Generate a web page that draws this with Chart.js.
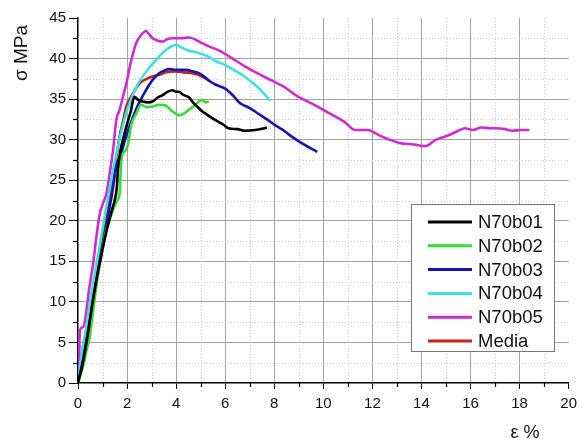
<!DOCTYPE html>
<html>
<head>
<meta charset="utf-8">
<script src="https://cdn.jsdelivr.net/npm/chart.js@4/dist/chart.umd.min.js"></script>
<style>
  html, body { margin: 0; padding: 0; background: #fff; }
  #wrap { width: 583px; height: 443px; position: relative; }
</style>
</head>
<body>
<div id="wrap"><canvas id="c" width="583" height="443"></canvas></div>
<script>
// Stress–strain curves, [strain %, stress MPa]
const n70b01 = [[0,0],[0.2,2.5],[0.4,6],[0.6,10],[0.8,13.5],[1.0,16.5],[1.2,19.2],[1.4,21.5],[1.5,22.6],[1.58,24],[1.63,26.3],[1.72,28.5],[1.85,30.2],[1.97,31.6],[2.15,33.5],[2.3,35.3],[2.45,34.9],[2.64,34.7],[2.85,34.6],[3.04,34.7],[3.25,35.2],[3.45,35.5],[3.65,35.9],[3.85,36.1],[4.0,35.9],[4.12,35.9],[4.25,35.6],[4.39,35.4],[4.53,35.2],[4.66,34.7],[4.85,34.1],[5.06,33.5],[5.3,33.0],[5.6,32.4],[5.9,31.9],[6.14,31.4],[6.5,31.3],[6.82,31.1],[7.22,31.2],[7.5,31.35],[7.7,31.5]];
const n70b02 = [[0,0],[0.2,2],[0.35,4],[0.48,5.7],[0.62,9],[0.8,13],[1.0,16.5],[1.15,18.8],[1.29,20.1],[1.45,21.5],[1.6,22.5],[1.7,23.4],[1.74,26],[1.78,27.8],[1.9,28.5],[2.03,29.3],[2.17,31.8],[2.37,33.2],[2.57,34.3],[2.8,34.0],[3.04,34.1],[3.3,34.3],[3.58,34.2],[3.8,33.6],[3.99,33.2],[4.12,33.0],[4.3,33.2],[4.53,33.7],[4.75,34.2],[4.93,34.7],[5.06,34.9],[5.2,34.6],[5.33,34.7]];
const n70b03 = [[0,0],[0.2,2.8],[0.4,6.2],[0.6,9.8],[0.8,13.3],[1.0,16.8],[1.2,20.2],[1.4,23.5],[1.56,26.7],[1.76,28.3],[1.97,30.5],[2.24,32.8],[2.45,34.3],[2.64,35.4],[2.85,36.5],[3.05,37.4],[3.31,38.2],[3.5,38.5],[3.72,38.7],[4.0,38.6],[4.39,38.6],[4.7,38.4],[4.93,38.2],[5.13,37.8],[5.33,37.3],[5.6,36.8],[6.0,36.3],[6.3,35.5],[6.61,34.5],[7.0,33.9],[7.35,33.2],[7.7,32.5],[8.03,31.8],[8.4,31.1],[8.7,30.4],[9.1,29.6],[9.45,29.0],[9.75,28.5]];
const n70b04 = [[0,0],[0.1,2.5],[0.2,4.5],[0.35,7],[0.48,9.8],[0.6,12],[0.8,15.5],[1.0,19],[1.2,22.5],[1.4,25.8],[1.56,28.2],[1.75,30.8],[1.97,33.3],[2.2,35.3],[2.4,36.6],[2.64,37.8],[2.91,38.9],[3.2,39.9],[3.45,40.7],[3.7,41.3],[3.99,41.7],[4.2,41.4],[4.5,41.0],[4.9,40.7],[5.33,40.2],[5.6,39.7],[6.0,39.2],[6.35,38.6],[6.68,38.0],[7.0,37.3],[7.35,36.4],[7.6,35.6],[7.82,34.8]];
const n70b05 = [[0,0],[0.05,4],[0.08,6.5],[0.21,6.9],[0.3,8],[0.45,11.5],[0.62,14.8],[0.75,18],[0.89,20.9],[1.0,22],[1.16,23.4],[1.3,26],[1.43,28.7],[1.56,32.4],[1.7,33.7],[1.85,35.5],[1.97,36.9],[2.15,39.5],[2.37,41.9],[2.55,42.8],[2.77,43.4],[2.9,43.0],[3.04,42.5],[3.25,42.2],[3.45,42.1],[3.65,42.4],[3.85,42.5],[4.2,42.5],[4.53,42.6],[4.75,42.4],[4.93,42.1],[5.13,41.8],[5.33,41.5],[5.74,41.0],[6.3,40.0],[6.82,39.0],[7.3,38.2],[7.89,37.3],[8.4,36.5],[8.97,35.3],[9.5,34.5],[9.98,33.7],[10.4,33.0],[10.86,32.2],[11.3,31.2],[11.8,31.2],[12.3,30.5],[12.7,30.0],[13.1,29.6],[13.7,29.4],[14.15,29.2],[14.6,30.0],[15.15,30.6],[15.5,31.1],[15.77,31.4],[16.1,31.2],[16.44,31.5],[16.8,31.4],[17.05,31.4],[17.4,31.3],[17.7,31.1],[18.06,31.2],[18.4,31.2]];
const media  = [[0,0],[0.1,2.5],[0.2,4.5],[0.4,7.5],[0.6,11],[0.8,14.5],[1.0,17.5],[1.2,21],[1.4,24.5],[1.55,27.5],[1.7,30.5],[1.85,32.5],[1.97,34.1],[2.2,35.5],[2.4,36.5],[2.57,37.1],[2.8,37.5],[3.04,37.8],[3.31,38.0],[3.6,38.3],[3.99,38.4],[4.3,38.3],[4.66,38.2],[4.9,38.0],[5.1,37.7],[5.33,37.3]];

const seriesNames  = ['N70b01', 'N70b02', 'N70b03', 'N70b04', 'N70b05', 'Media'];
const seriesData   = [n70b01, n70b02, n70b03, n70b04, n70b05, media];
const seriesColors = ['#000000', '#33dd33', '#1414b4', '#3ce1e1', '#d22ad2', '#c81e1e'];

const xMin = 0, xMax = 20, xStep = 2;
const yMin = 0, yMax = 45, yStep = 5;

const FONT = "'Liberation Sans', Arial, sans-serif";

// dotted minor grid and short minor ticks at half steps
const minorGrid = {
  id: 'minorGrid',
  beforeDatasetsDraw(chart) {
    const { ctx, chartArea: a, scales: { x, y } } = chart;
    ctx.save();
    ctx.lineWidth = 1;
    ctx.strokeStyle = '#cfcfcf';
    ctx.setLineDash([1, 2]);
    for (let v = xMin + xStep / 2; v < xMax; v += xStep) {
      const px = Math.round(x.getPixelForValue(v)) + 0.5;
      ctx.beginPath(); ctx.moveTo(px, a.top); ctx.lineTo(px, a.bottom); ctx.stroke();
    }
    for (let v = yMin + yStep / 2; v < yMax; v += yStep) {
      const py = Math.round(y.getPixelForValue(v)) + 0.5;
      ctx.beginPath(); ctx.moveTo(a.left, py); ctx.lineTo(a.right, py); ctx.stroke();
    }
    ctx.setLineDash([]);
    ctx.strokeStyle = '#000';
    ctx.lineWidth = 1.2;
    for (let v = xMin + xStep / 2; v < xMax; v += xStep) {
      const px = Math.round(x.getPixelForValue(v)) + 0.5;
      ctx.beginPath(); ctx.moveTo(px, a.bottom); ctx.lineTo(px, a.bottom + 4); ctx.stroke();
    }
    for (let v = yMin + yStep / 2; v < yMax; v += yStep) {
      const py = Math.round(y.getPixelForValue(v)) + 0.5;
      ctx.beginPath(); ctx.moveTo(a.left, py); ctx.lineTo(a.left - 5, py); ctx.stroke();
    }
    ctx.restore();
  }
};

// axis titles and the boxed legend inside the plot
const decorations = {
  id: 'decorations',
  afterDraw(chart) {
    const { ctx } = chart;
    ctx.save();
    ctx.fillStyle = '#111';
    ctx.font = '19px ' + FONT;
    ctx.textAlign = 'center';
    ctx.textBaseline = 'middle';
    ctx.translate(22, 53);
    ctx.rotate(-Math.PI / 2);
    ctx.fillText('σ MPa', 0, 0);
    ctx.restore();

    ctx.save();
    ctx.fillStyle = '#111';
    ctx.font = '18px ' + FONT;
    ctx.textAlign = 'center';
    ctx.textBaseline = 'middle';
    ctx.fillText('ε %', 525, 433);
    ctx.restore();

    const box = { left: 411, top: 204, right: 554, bottom: 351 };
    ctx.save();
    ctx.fillStyle = '#fff';
    ctx.fillRect(box.left, box.top, box.right - box.left, box.bottom - box.top);
    ctx.strokeStyle = '#777';
    ctx.lineWidth = 1;
    ctx.strokeRect(box.left + 0.5, box.top + 0.5, box.right - box.left, box.bottom - box.top);
    ctx.font = '18.5px ' + FONT;
    ctx.textAlign = 'left';
    ctx.textBaseline = 'middle';
    chart.data.datasets.forEach((ds, i) => {
      const yy = 222 + i * 23.8;
      ctx.strokeStyle = ds.borderColor;
      ctx.lineWidth = 3;
      ctx.beginPath(); ctx.moveTo(428, yy); ctx.lineTo(472, yy); ctx.stroke();
      ctx.fillStyle = '#111';
      ctx.fillText(ds.label, 478, yy + 1);
    });
    ctx.restore();
  }
};

const datasets = seriesNames.map((name, i) => ({
  label: name,
  data: seriesData[i].map(p => ({ x: p[0], y: p[1] })),
  borderColor: seriesColors[i],
  backgroundColor: seriesColors[i],
  borderWidth: 2.6,
  pointRadius: 0,
  cubicInterpolationMode: 'monotone',
  fill: false
}));

new Chart(document.getElementById('c'), {
  type: 'line',
  data: { datasets },
  options: {
    responsive: false,
    animation: false,
    events: [],
    layout: { padding: { left: 0, right: 10, top: 18, bottom: 0 } },
    plugins: { legend: { display: false }, tooltip: { enabled: false } },
    scales: {
      x: {
        type: 'linear', min: xMin, max: xMax,
        afterFit(s) { s.height = 60; },
        ticks: { stepSize: xStep, padding: 6, color: '#111', font: { family: FONT, size: 15 } },
        grid: {
          color: c => (c.tick && (c.tick.value === xMin || c.tick.value === xMax)) ? 'rgba(0,0,0,0)' : '#a4a4a4',
          tickColor: '#000', tickLength: 6, lineWidth: 1
        },
        border: { color: '#000', width: 1.5 }
      },
      y: {
        type: 'linear', min: yMin, max: yMax,
        afterFit(s) { s.width = 78; },
        ticks: { stepSize: yStep, padding: 3, color: '#111', font: { family: FONT, size: 15 } },
        grid: {
          color: c => (c.tick && (c.tick.value === yMin || c.tick.value === yMax)) ? 'rgba(0,0,0,0)' : '#a4a4a4',
          tickColor: '#000', tickLength: 9, lineWidth: 1
        },
        border: { color: '#000', width: 1.5 }
      }
    }
  },
  plugins: [minorGrid, decorations]
});
</script>
</body>
</html>
